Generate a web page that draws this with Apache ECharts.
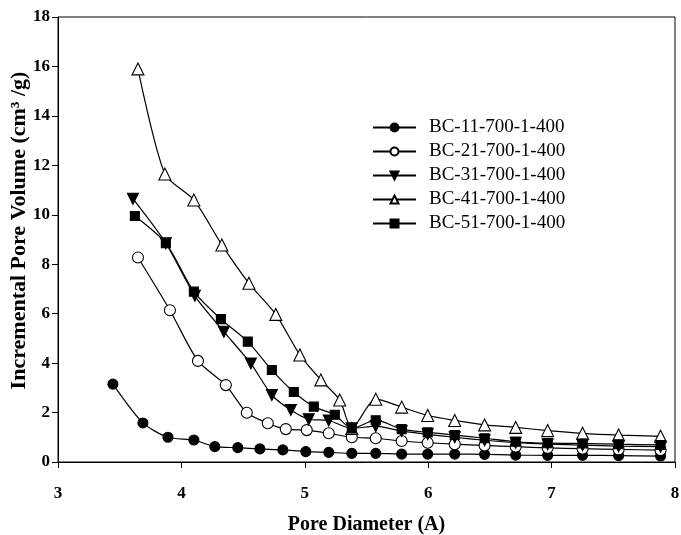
<!DOCTYPE html>
<html>
<head>
<meta charset="utf-8">
<script src="https://cdn.jsdelivr.net/npm/echarts@6/dist/echarts.min.js"></script>
<style>html,body{margin:0;padding:0;background:#fff}#c{width:681px;height:535px}</style>
</head>
<body>
<div id="c"></div>
<script>
// Pore diameter (A) positions
var tailX = [5.575, 5.785, 5.996, 6.215, 6.457, 6.709, 6.968, 7.251, 7.543, 7.883];
var x11 = [3.445, 3.688, 3.891, 4.101, 4.271, 4.457, 4.636, 4.822, 5.008, 5.194, 5.381].concat(tailX);
var x21 = [3.648, 3.907, 4.134, 4.360, 4.530, 4.700, 4.846, 5.016, 5.194, 5.381].concat(tailX);
var x31 = [3.607, 3.874, 4.109, 4.344, 4.563, 4.733, 4.887, 5.032, 5.194, 5.381].concat(tailX);
var x41 = [3.648, 3.866, 4.101, 4.328, 4.547, 4.765, 4.960, 5.130, 5.283, 5.381].concat(tailX);
var x51 = [3.623, 3.874, 4.101, 4.320, 4.538, 4.733, 4.911, 5.073, 5.243, 5.381].concat(tailX);

// Incremental pore volume (cm3/g)
var y11 = [3.15, 1.58, 1.00, 0.89, 0.62, 0.58, 0.53, 0.49, 0.42, 0.39, 0.35, 0.35, 0.32, 0.32, 0.32, 0.31, 0.28, 0.27, 0.27, 0.26, 0.24];
var y21 = [8.27, 6.14, 4.09, 3.11, 1.99, 1.57, 1.33, 1.29, 1.16, 1.00, 0.96, 0.85, 0.78, 0.72, 0.67, 0.62, 0.57, 0.54, 0.51, 0.48];
var y31 = [10.65, 8.85, 6.72, 5.27, 3.98, 2.71, 2.10, 1.73, 1.68, 1.36, 1.45, 1.25, 1.12, 1.00, 0.88, 0.78, 0.72, 0.68, 0.64, 0.62];
var y41 = [15.90, 11.65, 10.60, 8.78, 7.23, 5.97, 4.33, 3.32, 2.51, 1.36, 2.54, 2.22, 1.88, 1.68, 1.50, 1.40, 1.27, 1.16, 1.09, 1.04];
var y51 = [9.95, 8.85, 6.89, 5.78, 4.87, 3.72, 2.83, 2.24, 1.91, 1.36, 1.69, 1.33, 1.20, 1.09, 0.96, 0.82, 0.76, 0.75, 0.72, 0.69];

var names = ['BC-11-700-1-400', 'BC-21-700-1-400', 'BC-31-700-1-400', 'BC-41-700-1-400', 'BC-51-700-1-400'];
var xTicks = [3, 4, 5, 6, 7, 8];
var yTicks = [0, 2, 4, 6, 8, 10, 12, 14, 16, 18];

function pairs(xs, ys) { return xs.map(function (x, i) { return [x, ys[i]]; }); }

var FONT = 'Liberation Serif';
function mk(name, xs, ys, symbol, size, filled, rotate) {
  return {
    name: name, type: 'line', data: pairs(xs, ys),
    smooth: 0.25,
    symbol: symbol, symbolSize: size, symbolRotate: rotate || 0,
    showAllSymbol: true,
    lineStyle: { color: '#000', width: 1.2 },
    itemStyle: { color: filled ? '#000' : '#fff', borderColor: '#000', borderWidth: 1.1 },
    emphasis: { disabled: true },
    animation: false
  };
}

var chart = echarts.init(document.getElementById('c'), null, { renderer: 'canvas' });
chart.setOption({
  backgroundColor: '#fff',
  animation: false,
  grid: { left: 58, right: 6, top: 17, bottom: 73, show: true, borderColor: '#000', borderWidth: 1,
          containLabel: false, outerBoundsMode: 'none' },
  legend: {
    left: 367, top: 113, orient: 'vertical',
    itemWidth: 43, itemHeight: 10, itemGap: 5,
    data: names,
    textStyle: { fontFamily: FONT, fontSize: 19, lineHeight: 19, color: '#000', padding: [0, 0, 0, 8] }
  },
  xAxis: {
    type: 'value', min: xTicks[0], max: xTicks[xTicks.length - 1], interval: 1,
    name: 'Pore Diameter (A)', nameLocation: 'middle', nameGap: 53, nameMoveOverlap: false,
    nameTextStyle: { fontFamily: FONT, fontSize: 20, fontWeight: 'bold', color: '#000' },
    axisLine: { lineStyle: { color: '#000', width: 1 } },
    axisTick: { show: true, length: 6, lineStyle: { color: '#000' } },
    axisLabel: { margin: 23, fontFamily: FONT, fontSize: 17, fontWeight: 'bold', color: '#000' },
    splitLine: { show: false }
  },
  yAxis: {
    type: 'value', min: yTicks[0], max: yTicks[yTicks.length - 1], interval: 2,
    name: 'Incremental Pore Volume (cm³ /g)', nameLocation: 'middle', nameGap: 28, nameRotate: 90,
    nameMoveOverlap: false,
    nameTextStyle: { fontFamily: FONT, fontSize: 22, fontWeight: 'bold', color: '#000', padding: [0, 0, 0, 18] },
    axisLine: { lineStyle: { color: '#000', width: 1 } },
    axisTick: { show: true, length: 6, lineStyle: { color: '#000' } },
    axisLabel: { margin: 8, fontFamily: FONT, fontSize: 17, fontWeight: 'bold', color: '#000' },
    splitLine: { show: false }
  },
  series: [
    mk(names[0], x11, y11, 'circle', 10, true),
    mk(names[1], x21, y21, 'circle', 11, false),
    mk(names[2], x31, y31, 'triangle', 11, true, 180),
    mk(names[3], x41, y41, 'triangle', 12, false),
    mk(names[4], x51, y51, 'rect', 9, true)
  ]
});
</script>
</body>
</html>
